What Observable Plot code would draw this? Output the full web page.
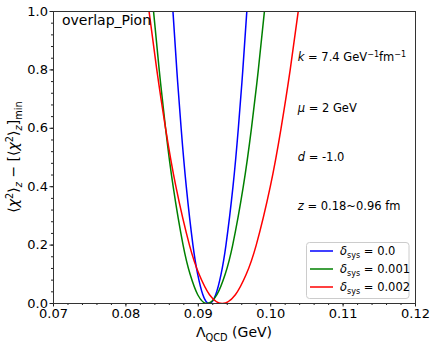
<!DOCTYPE html>
<html><head><meta charset="utf-8">
<script src="https://cdn.jsdelivr.net/npm/d3@7"></script>
<script src="https://cdn.jsdelivr.net/npm/@observablehq/plot@0.6"></script>
<style>
body{margin:0;background:#fff}
svg{font-family:"DejaVu Sans",sans-serif}
</style>
</head><body><div id="chart"></div>
<script>
// δsys values and colours
const deltaSys = ["0.0", "0.001", "0.002"];
const seriesColors = ["#0000ff", "#008000", "#ff0000"];

// curve points (ΛQCD in GeV, Δχ²)
const chiLevels = [1, 0.8, 0.6, 0.4, 0.2, 0.1, 0.03, 0, 0.03, 0.1, 0.2, 0.4, 0.6, 0.8, 1];
const lambdaSys0 = [0.0865, 0.08703, 0.08763, 0.08834, 0.08926, 0.08992, 0.09063, 0.0915, 0.0924, 0.09314, 0.09382, 0.09479, 0.09553, 0.09615, 0.0967];
const lambdaSys1 = [0.08382, 0.0846, 0.08548, 0.08653, 0.0879, 0.08887, 0.08992, 0.0912, 0.09257, 0.09371, 0.09475, 0.09621, 0.09734, 0.09829, 0.09913];
const lambdaSys2 = [0.0832, 0.08427, 0.08548, 0.08691, 0.08878, 0.09011, 0.09155, 0.0933, 0.09512, 0.09662, 0.098, 0.09994, 0.10143, 0.10269, 0.1038];

const xTicks = [0.07, 0.08, 0.09, 0.10, 0.11, 0.12];
const yTicks = [0, 0.2, 0.4, 0.6, 0.8, 1.0];
const xMinor = d3.range(35, 61).map(i => +(i * 0.002).toFixed(3));
const yMinor = d3.range(0, 26).map(i => +(i * 0.04).toFixed(2));

const lambdaSeries = [lambdaSys0, lambdaSys1, lambdaSys2];
const rows = [];
lambdaSeries.forEach((xs, s) => xs.forEach((x, i) => rows.push({s: deltaSys[s], x, y: chiLevels[i]})));

const chart = Plot.plot({
  width: 436, height: 347,
  marginLeft: 53, marginRight: 21, marginTop: 11, marginBottom: 44,
  style: {fontFamily: "DejaVu Sans, sans-serif", fontSize: "13px", background: "#fff"},
  x: {domain: [0.07, 0.12]},
  y: {domain: [0, 1]},
  color: {domain: deltaSys, range: seriesColors},
  marks: [
    Plot.line(rows, {x: "x", y: "y", z: "s", stroke: "s", strokeWidth: 1.5, curve: "natural", clip: true}),
    Plot.axisX({ticks: xMinor, tickSize: 2, text: null, stroke: "#222", label: null}),
    Plot.axisY({ticks: yMinor, tickSize: 2, text: null, stroke: "#222", label: null}),
    Plot.axisX({ticks: xTicks, tickSize: 3.5, tickPadding: 2, tickFormat: d => d.toFixed(2), fontSize: 13, fill: "#000", stroke: "#222", label: null}),
    Plot.axisY({ticks: yTicks, tickSize: 3.5, tickPadding: 2, tickFormat: d => d.toFixed(1), fontSize: 13, fill: "#000", stroke: "#222", label: null}),
    Plot.frame({stroke: "#333", strokeWidth: 1})
  ]
});
document.getElementById("chart").appendChild(chart);

const svg = d3.select(chart);
const sx = chart.scale("x"), sy = chart.scale("y");

function rich(g, parts, size, anchor) {
  const t = g.append("text").attr("font-size", size).attr("fill", "#000").attr("text-anchor", anchor || "start");
  let shift = 0;
  parts.forEach(([txt, st]) => {
    const sp = t.append("tspan").text(txt);
    let target = 0;
    if (st.startsWith("sub")) { target = 0.25 * size; sp.attr("font-size", size * 0.7); }
    if (st === "sup") { target = -0.38 * size; sp.attr("font-size", size * 0.7); }
    if (st.includes("i")) sp.attr("font-style", "italic");
    sp.attr("dy", target - shift);
    shift = target;
  });
  return t;
}

// overlap_Pion
svg.append("text").attr("x", 62).attr("y", 25).attr("font-size", 14).attr("fill", "#000")
  .attr("text-anchor", "start").text("overlap_Pion");

// annotations
const annX = sx.apply(0.1038);
const annY = [0.842, 0.668, 0.5, 0.332];
const annotations = [
  [["k", "i"], [" = 7.4 GeV", ""], ["−1", "sup"], ["fm", ""], ["−1", "sup"]],
  [["μ", "i"], [" = 2 GeV", ""]],
  [["d", "i"], [" = -1.0", ""]],
  [["z", "i"], [" = 0.18~0.96 fm", ""]]
];
annotations.forEach((p, i) => {
  const g = svg.append("g").attr("transform", `translate(${annX},${sy.apply(annY[i]) + 4})`);
  rich(g, p, 11.5);
});

// legend
const lg = svg.append("g");
lg.append("rect").attr("x", 306.5).attr("y", 242.5).attr("width", 102.5).attr("height", 56).attr("rx", 3)
  .attr("fill", "#fff").attr("fill-opacity", 0.8).attr("stroke", "#ccc");
deltaSys.forEach((d, i) => {
  const yy = 251 + i * 18;
  lg.append("line").attr("x1", 310).attr("x2", 333).attr("y1", yy).attr("y2", yy)
    .attr("stroke", seriesColors[i]).attr("stroke-width", 1.5);
  const g = lg.append("g").attr("transform", `translate(340,${yy + 4})`);
  rich(g, [["δ", "i"], ["sys", "sub"], [" = " + d, ""]], 11.5);
});

// x label
const xl = svg.append("g").attr("transform", `translate(234,337)`);
rich(xl, [["Λ", ""], ["QCD", "sub"], [" (GeV)", ""]], 14, "middle");

// y label
const yl = svg.append("g").attr("transform", `translate(18,157) rotate(-90)`);
rich(yl, [["⟨", ""], ["χ", "i"], ["2", "sup"], ["⟩", ""], ["z", "subi"], [" − [⟨", ""], ["χ", "i"], ["2", "sup"], ["⟩", ""], ["z", "subi"], ["]", ""], ["min", "sub"]], 14, "middle");
</script>
</body></html>
